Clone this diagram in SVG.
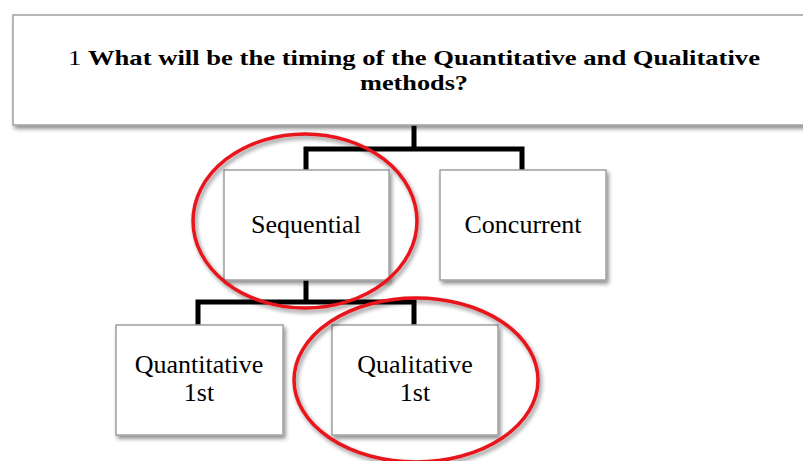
<svg xmlns="http://www.w3.org/2000/svg" width="803" height="461" viewBox="0 0 803 461">
<defs>
<filter id="sh" x="-10%" y="-10%" width="130%" height="140%">
<feGaussianBlur in="SourceAlpha" stdDeviation="2"/>
<feOffset dx="2" dy="3" result="b"/>
<feComponentTransfer><feFuncA type="linear" slope="0.45"/></feComponentTransfer>
<feMerge><feMergeNode/><feMergeNode in="SourceGraphic"/></feMerge>
</filter>
</defs>
<style>
.box{fill:#fff;stroke:#a0a0a0;stroke-width:1.5;filter:url(#sh)}
.t{font-family:"Liberation Serif","Times New Roman",serif;fill:#000;text-anchor:middle}
.n{font-size:26px}
.c{fill:none;stroke:#000;stroke-width:5;stroke-linejoin:miter;stroke-linecap:butt}
.o{fill:none;stroke:#e8141b;stroke-width:3.5;filter:url(#sh)}
</style>
<rect width="803" height="461" fill="#fff"/>
<g id="connectors">
<path class="c" d="M414,124 V149 M306,172 V149 H522 V172"/>
<path class="c" d="M306,280 V302 M198,327 V302 H414 V327"/>
</g>
<g id="top">
<rect class="box" x="13" y="15" width="800" height="110"/>
<text class="t" x="414" y="65" font-size="22" textLength="692" lengthAdjust="spacingAndGlyphs"><tspan>1 </tspan><tspan font-weight="bold">What will be the timing of the Quantitative and Qualitative</tspan></text>
<text class="t" x="414" y="90" font-size="22" font-weight="bold" textLength="108" lengthAdjust="spacingAndGlyphs">methods?</text>
</g>
<g id="sequential">
<rect class="box" x="224" y="170" width="165" height="110"/>
<text class="t n" x="306" y="233">Sequential</text>
</g>
<g id="concurrent">
<rect class="box" x="440" y="170" width="166" height="110"/>
<text class="t n" x="523" y="233">Concurrent</text>
</g>
<g id="quantitative">
<rect class="box" x="116" y="325" width="167" height="110"/>
<text class="t n" x="199" y="373">Quantitative</text>
<text class="t n" x="199" y="401">1st</text>
</g>
<g id="qualitative">
<rect class="box" x="332" y="325" width="166" height="110"/>
<text class="t n" x="415" y="373">Qualitative</text>
<text class="t n" x="415" y="401">1st</text>
</g>
<g id="highlights">
<ellipse class="o" cx="305" cy="221" rx="112" ry="87"/>
<ellipse class="o" cx="416" cy="380" rx="122" ry="82"/>
</g>
</svg>
